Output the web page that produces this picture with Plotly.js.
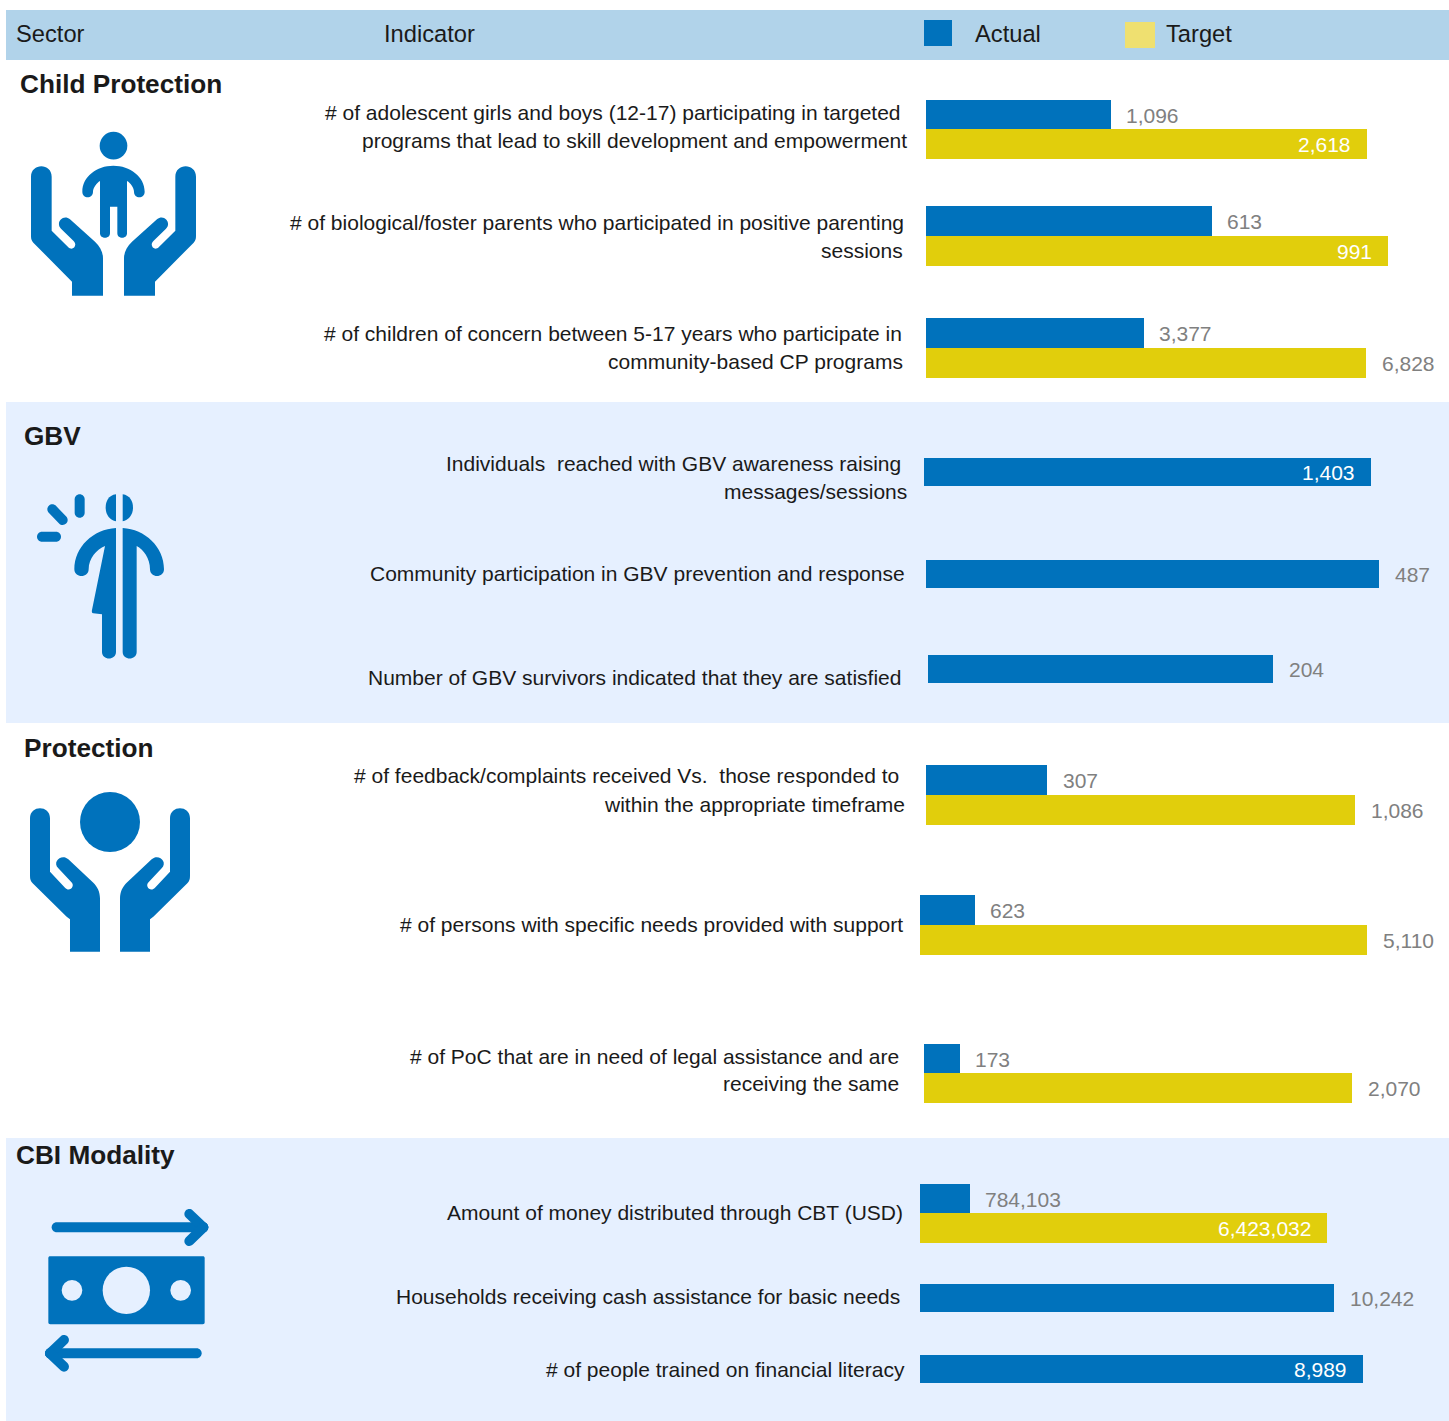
<!DOCTYPE html>
<html><head><meta charset="utf-8">
<script src="https://cdn.plot.ly/plotly-3.0.0.min.js"></script>
<style>html,body{margin:0;padding:0;background:#fff}</style></head>
<body><div id="chart" style="width:1449px;height:1421px"></div>
<script>
// ---- data ----
const sectors = ["Child Protection","GBV","Protection","CBI Modality"];
const headers = ["Sector","Indicator","Actual","Target"];
const indicators = [
 ["# of adolescent girls and boys (12-17) participating in targeted","programs that lead to skill development and empowerment"],
 ["# of biological/foster parents who participated in positive parenting","sessions"],
 ["# of children of concern between 5-17 years who participate in","community-based CP programs"],
 ["Individuals  reached with GBV awareness raising","messages/sessions"],
 ["Community participation in GBV prevention and response"],
 ["Number of GBV survivors indicated that they are satisfied"],
 ["# of feedback/complaints received Vs.  those responded to","within the appropriate timeframe"],
 ["# of persons with specific needs provided with support"],
 ["# of PoC that are in need of legal assistance and are","receiving the same"],
 ["Amount of money distributed through CBT (USD)"],
 ["Households receiving cash assistance for basic needs"],
 ["# of people trained on financial literacy"]
];
const actual = [1096,613,3377,1403,487,204,307,623,173,784103,10242,8989];
const target = [2618,991,6828,null,null,null,1086,5110,2070,6423032,null,null];

// ---- layout geometry (pixels on the page) ----
const W=1449,H=1421;
const plotLeft  = [926,926,926,924,926,928,926,920,924,920,920,920];
const plotRight = [1367,1388,1366,1371,1379,1273,1355,1367,1352,1327,1334,1363];
const plotTop   = [100,206,318,458,560,655,765,895,1044,1184,1284,1355];
const plotBot   = [158.9,266,378,486,588,683,825,955,1102.9,1242.9,1312,1383];
const labelInsideActual = [0,0,0,1,0,0,0,0,0,0,0,1];
const labelInsideTarget = [1,1,0,0,0,0,0,0,0,1,0,0];
const textRight = [[901,906.5],[904,902.5],[902,903],[901,906.5],[905],[900.5],[899,904.5],[902.5],[898.5,898.5],[903],[900],[905]];
const textY = [[113,140],[223,250],[333,361],[463,491],[573.5],[678],[776,804],[924],[1056,1083],[1212],[1296],[1369]];
const sectorX=[20,24,24,16], sectorY=[84.5,436,748,1155];
const headerX=[16,384,975,1165.5];

const BLUE='#0072BC',YEL='#E1CE0C',YELL='#EFE070',HDR='#B1D3EA',BAND='#E6F0FF',INK='#1a1a1a',GREY='#808080';
const FONT='"Liberation Sans", Arial, sans-serif';
const px=x=>x/W, py=y=>1-y/H;
const fmt=v=>v.toLocaleString('en-US');

const traces=[],annotations=[],shapes=[];
const layout={width:W,height:H,margin:{l:0,r:0,t:0,b:0},paper_bgcolor:'#fff',plot_bgcolor:'rgba(0,0,0,0)',
  barmode:'overlay',bargap:0,showlegend:false,font:{family:FONT,color:INK},annotations,shapes};

function txt(x,y,text,size,anchor,color,bold){
  annotations.push({xref:'paper',yref:'paper',x:px(x),y:py(y),text:bold?'<b>'+text+'</b>':text,showarrow:false,
    xanchor:anchor,yanchor:'middle',borderpad:0,borderwidth:0,font:{family:FONT,size,color}});
}
function rect(x0,y0,x1,y1,fill,below){
  shapes.push({type:'rect',xref:'paper',yref:'paper',x0:px(x0),x1:px(x1),y0:py(y0),y1:py(y1),fillcolor:fill,line:{width:0},layer:below?'below':'above'});
}
// icon helpers: coordinates written in a 3x frame with an origin
function pathShape(d,ox,oy,mirror,fill){
  const conv=d.replace(/(-?\d+(?:\.\d+)?),(-?\d+(?:\.\d+)?)/g,(m,a,b)=>{
    let X=+a; if(mirror!==undefined) X=mirror-X;
    return px(ox+X/3).toFixed(6)+','+py(oy+(+b)/3).toFixed(6);});
  shapes.push({type:'path',xref:'paper',yref:'paper',path:conv,fillcolor:fill||BLUE,line:{width:0},layer:'above'});
}
function circle(cx,cy,r,ox,oy,fill){
  const X=ox+cx/3,Y=oy+cy/3,R=r/3;
  shapes.push({type:'circle',xref:'paper',yref:'paper',x0:px(X-R),x1:px(X+R),y0:py(Y+R),y1:py(Y-R),fillcolor:fill||BLUE,line:{width:0},layer:'above'});
}
function capsule(x1,y1,x2,y2,w,ox,oy){
  const L=Math.hypot(x2-x1,y2-y1),ux=(x2-x1)/L,uy=(y2-y1)/L,r=w/2,nx=-uy*r,ny=ux*r,ex=ux*r,ey=uy*r,kk=0.5523;
  const f=(a,b)=>a.toFixed(2)+','+b.toFixed(2);
  const d='M'+f(x1+nx,y1+ny)+' L'+f(x2+nx,y2+ny)+
    ' C'+f(x2+nx+ex*kk,y2+ny+ey*kk)+' '+f(x2+ex+nx*kk,y2+ey+ny*kk)+' '+f(x2+ex,y2+ey)+
    ' C'+f(x2+ex-nx*kk,y2+ey-ny*kk)+' '+f(x2-nx+ex*kk,y2-ny+ey*kk)+' '+f(x2-nx,y2-ny)+
    ' L'+f(x1-nx,y1-ny)+
    ' C'+f(x1-nx-ex*kk,y1-ny-ey*kk)+' '+f(x1-ex-nx*kk,y1-ey-ny*kk)+' '+f(x1-ex,y1-ey)+
    ' C'+f(x1-ex+nx*kk,y1-ey+ny*kk)+' '+f(x1+nx-ex*kk,y1+ny-ey*kk)+' '+f(x1+nx,y1+ny)+' Z';
  pathShape(d,ox,oy);
}

// ---- bands and header ----
rect(6,10,W,60,HDR,true);
rect(6,402,W,723,BAND,true);
rect(6,1138,W,1421,BAND,true);
rect(924,20,952,46,BLUE,false);
rect(1125,22,1155,48,YELL,false);
headers.forEach((h,i)=>txt(headerX[i],33.5,h,23.7,'left',INK,false));
sectors.forEach((s,i)=>txt(sectorX[i],sectorY[i],s,26.2,'left',INK,true));

// ---- rows: each indicator has its own scale ----
actual.forEach((a,i)=>{
  const n=i===0?'':String(i+1), hasT=target[i]!==null;
  const max=hasT?Math.max(a,target[i]):a;
  layout['xaxis'+n]={domain:[px(plotLeft[i]),px(plotRight[i])],range:[0,max],visible:false,fixedrange:true,anchor:'y'+n};
  layout['yaxis'+n]={domain:[py(plotBot[i]),py(plotTop[i])],range:hasT?[1.5,-0.5]:[0.5,-0.5],visible:false,fixedrange:true,anchor:'x'+n};
  const add=(v,pos,color,name,inside)=>{
    traces.push({type:'bar',orientation:'h',x:[v],y:[pos],width:1,name,marker:{color,line:{width:0}},xaxis:'x'+n,yaxis:'y'+n,hoverinfo:'x+name'});
    annotations.push({xref:'x'+n,yref:'y'+n,x:v,y:pos,text:fmt(v),showarrow:false,borderpad:0,
      xanchor:inside?'right':'left',xshift:inside?-15:14.5,yshift:-0.5,yanchor:'middle',
      font:{family:FONT,size:21,color:inside?'#ffffff':GREY}});
  };
  add(a,0,BLUE,'Actual',labelInsideActual[i]);
  if(hasT) add(target[i],1,YEL,'Target',labelInsideTarget[i]);
  indicators[i].forEach((line,j)=>txt(textRight[i][j],textY[i][j],line,21,'right',INK,false));
});

// ---- icons ----
const H1='M93,530 C93,488 155,488 155,530 L155,692 L205,742 C218,755 235,735 220,722 L183,686 C165,668 190,640 210,658 L285,725 C300,740 309,755 309,775 L309,887 L216,887 L216,845 L100,728 C95,722 93,718 93,708 Z';
pathShape(H1,0,0); pathShape(H1,0,0,681);
circle(340.5,437,41.5,0,0);
pathShape('M247,575 C247,530 290,497 340,497 C390,497 434,530 434,575 C434,597 402,597 402,575 C402,565 392,548 381,543 L381,700 C381,718 352,718 352,700 L352,620 L330,620 L330,700 C330,718 300,718 300,700 L300,543 C290,548 279,565 279,575 C279,597 247,597 247,575 Z',0,0);
pathShape('M318,253 C295,256 287,275 287,293 C287,315 300,331 318,334 Z',10,410);
pathShape('M338,253 C360,256 369,275 369,293 C369,315 355,331 338,334 Z',10,410);
capsule(209,268,209,308,30,10,410);
capsule(127,298,158,330,30,10,410);
capsule(96,380,138,380,30,10,410);
pathShape('M318,354 L318,726 C318,752 276,752 276,726 L276,613 L250,610 C245,610 245,603 246,600 L285,408 C260,418 236,445 236,478 C236,505 193,505 193,478 C193,410 250,358 318,354 Z',10,410);
pathShape('M338,354 C405,358 462,410 462,478 C462,505 420,505 420,478 C420,445 400,418 380,408 L380,726 C380,752 338,752 338,726 Z',10,410);
const H3='M60,265 C60,225 120,225 120,265 L120,425 L165,473 C178,488 198,468 183,455 L145,415 C125,395 155,370 175,388 L250,458 C262,470 270,485 270,505 L270,665 L180,665 L180,568 L170,560 L68,460 C62,453 60,448 60,437 Z';
pathShape(H3,10,730); pathShape(H3,10,730,600);
circle(300,276,90,10,730);
capsule(140,277,580,277,30,10,1135);
capsule(538,237,580,277,30,10,1135);
capsule(538,318,580,277,30,10,1135);
capsule(120,655,560,655,30,10,1135);
capsule(162,615,120,655,30,10,1135);
capsule(162,695,120,655,30,10,1135);
pathShape('M121,364 L578,364 C582,364 584,366 584,370 L584,562 C584,566 582,568 578,568 L121,568 C117,568 115,566 115,562 L115,370 C115,366 117,364 121,364 Z',10,1135);
circle(186,466,31,10,1135,BAND);
circle(349,466,71,10,1135,BAND);
circle(512,466,31,10,1135,BAND);

Plotly.newPlot('chart',traces,layout,{displayModeBar:false,responsive:false});
</script></body></html>
